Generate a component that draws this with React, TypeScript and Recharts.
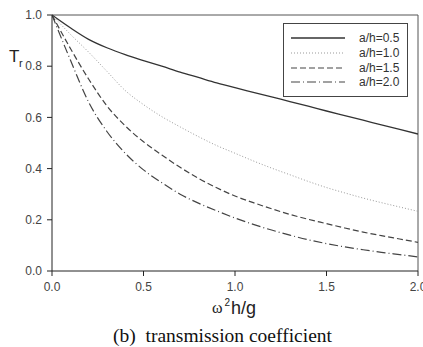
import React from 'react';
import { LineChart, Line, XAxis, YAxis, ReferenceLine } from 'recharts';

const xValues = [0, 0.1, 0.2, 0.3, 0.4, 0.5, 0.6, 0.7, 0.8, 0.9, 1.0, 1.1, 1.2, 1.3, 1.4, 1.5, 1.6, 1.7, 1.8, 1.9, 2.0];
const ah05 = [1.0, 0.95, 0.905, 0.872, 0.845, 0.822, 0.8, 0.777, 0.756, 0.735, 0.716, 0.698, 0.68, 0.662, 0.644, 0.625, 0.607, 0.589, 0.571, 0.553, 0.535];
const ah10 = [1.0, 0.925, 0.855, 0.78, 0.705, 0.65, 0.603, 0.563, 0.525, 0.49, 0.46, 0.43, 0.402, 0.376, 0.35, 0.326, 0.305, 0.285, 0.267, 0.25, 0.233];
const ah15 = [1.0, 0.87, 0.75, 0.645, 0.567, 0.505, 0.453, 0.405, 0.362, 0.325, 0.293, 0.267, 0.243, 0.221, 0.202, 0.185, 0.168, 0.152, 0.138, 0.125, 0.112];
const ah20 = [1.0, 0.825, 0.66, 0.545, 0.46, 0.395, 0.345, 0.3, 0.265, 0.235, 0.207, 0.182, 0.16, 0.14, 0.122, 0.107, 0.094, 0.083, 0.073, 0.064, 0.055];
const xTicks = [0, 0.5, 1.0, 1.5, 2.0];
const yTicks = [0, 0.2, 0.4, 0.6, 0.8, 1.0];

const seriesNames = ['a/h=0.5', 'a/h=1.0', 'a/h=1.5', 'a/h=2.0'];

const data = xValues.map((x, i) => ({ x, s0: ah05[i], s1: ah10[i], s2: ah15[i], s3: ah20[i] }));

const styles = [
  { key: 's0', stroke: '#333', dash: undefined as string | undefined, width: 1.3 },
  { key: 's1', stroke: '#999', dash: '1 2', width: 1 },
  { key: 's2', stroke: '#444', dash: '6 3', width: 1.2 },
  { key: 's3', stroke: '#444', dash: '9 3 1 3', width: 1.2 },
];

const tickStyle = { fontSize: 12, fill: '#444', fontFamily: '"Liberation Sans", Arial, sans-serif' };

const LegendBox = () => (
  <div style={{ position: 'absolute', left: 283, top: 23, border: '1px solid #444', width: 125, height: 74, boxSizing: 'border-box', background: '#fff', paddingTop: 7 }}>
    {styles.map((s, i) => (
      <div key={s.key} style={{ display: 'flex', alignItems: 'center', height: 14.7 }}>
        <svg width={62} height={10} style={{ marginLeft: 7 }}>
          <line x1={0} y1={5} x2={54} y2={5} stroke={s.stroke} strokeWidth={s.width} strokeDasharray={s.dash} />
        </svg>
        <span style={{ marginLeft: 6, fontSize: 12, color: '#333', fontFamily: '"Liberation Sans", Arial, sans-serif', lineHeight: '14px' }}>{seriesNames[i]}</span>
      </div>
    ))}
  </div>
);

export default function App() {
  return (
    <div style={{ position: 'absolute', left: 0, top: 0, width: 423, height: 347, background: '#fff', overflow: 'hidden' }}>
      <LineChart width={423} height={347} data={data} margin={{ top: 15, right: 5, left: 0, bottom: 46 }}>
        <XAxis
          dataKey="x"
          type="number"
          domain={[0, 2]}
          ticks={xTicks}
          tickFormatter={(v: number) => v.toFixed(1)}
          tick={tickStyle}
          tickSize={5}
          tickMargin={6}
          height={30}
          stroke="#222"
          interval={0}
          allowDataOverflow
        />
        <YAxis
          type="number"
          domain={[0, 1]}
          ticks={yTicks}
          tickFormatter={(v: number) => v.toFixed(1)}
          tick={tickStyle}
          tickSize={5}
          tickMargin={5}
          width={52}
          stroke="#222"
          interval={0}
        />
        <ReferenceLine y={1} stroke="#555" strokeWidth={1} />
        <ReferenceLine x={2} stroke="#555" strokeWidth={1} />
        {styles.map((s, i) => (
          <Line
            key={s.key}
            type="monotone"
            dataKey={s.key}
            name={seriesNames[i]}
            stroke={s.stroke}
            strokeWidth={s.width}
            strokeDasharray={s.dash}
            dot={false}
            activeDot={false}
            isAnimationActive={false}
          />
        ))}
      </LineChart>
      <LegendBox />
      <svg width={423} height={347} style={{ position: 'absolute', left: 0, top: 0, pointerEvents: 'none' }}>
        <text x={9} y={62} fontSize={17} fill="#222" fontFamily='"Liberation Sans", Arial, sans-serif'>T</text>
        <text x={19} y={67} fontSize={11} fill="#222" fontFamily='"Liberation Sans", Arial, sans-serif'>r</text>
        <text x={212} y={313} fontSize={16} fill="#222" fontFamily='"Liberation Serif", "Times New Roman", serif'>ω</text>
        <text x={224.5} y={306} fontSize={10} fill="#222" fontFamily='"Liberation Sans", Arial, sans-serif'>2</text>
        <text x={231} y={314} fontSize={18} fill="#222" fontFamily='"Liberation Sans", Arial, sans-serif'>h/g</text>
        <text x={113} y={342} fontSize={19.5} fill="#111" fontFamily='"Liberation Serif", "Times New Roman", serif' style={{ whiteSpace: 'pre' }}>(b)  transmission coefficient</text>
      </svg>
    </div>
  );
}
